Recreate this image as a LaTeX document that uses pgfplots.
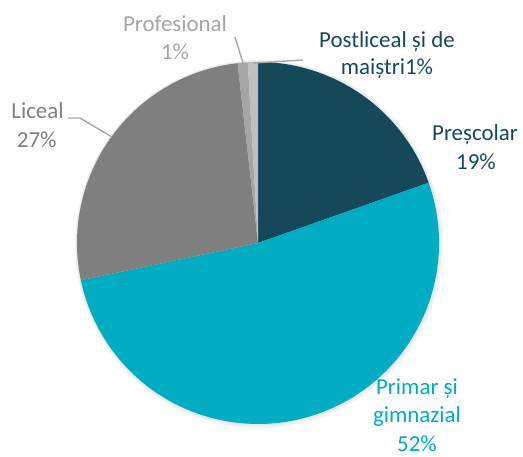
\documentclass[border=0pt]{standalone}
\usepackage{pgfplots}
\usepackage{pgfplotstable}
\pgfplotsset{compat=1.18}
\usepackage{fontspec}
\setmainfont{Carlito}
\definecolor{cPre}{HTML}{15495A}
\definecolor{cPri}{HTML}{00ACC1}
\definecolor{cLic}{HTML}{7F7F7F}
\definecolor{cPro}{HTML}{A5A5A5}
\definecolor{cPost}{HTML}{BFBFBF}
\definecolor{cLead}{HTML}{A6A6A6}

% share of each category (percent), clockwise from 12 o'clock
\pgfplotstableread{
pct   color
19.6  cPre
52.1  cPri
26.5  cLic
0.9   cPro
0.9   cPost
}\piedata

\begin{document}
\begin{tikzpicture}
\begin{axis}[
  scale only axis, width=523bp, height=457bp,
  xmin=0, xmax=523, ymin=0, ymax=457,
  hide axis, clip=false,
]
% soft shadow
\fill[black!5] (axis cs:259,213) circle[radius=184bp];
\fill[black!9] (axis cs:258.5,213.5) circle[radius=182.3bp];
% slices
\def\angA{90}
\pgfplotstablegetrowsof{\piedata}
\pgfmathtruncatemacro\nrows{\pgfplotsretval-1}
\pgfplotsforeachungrouped \i in {0,...,\nrows}{%
  \pgfplotstablegetelem{\i}{pct}\of\piedata \let\slicepct\pgfplotsretval
  \pgfplotstablegetelem{\i}{color}\of\piedata \let\slicecol\pgfplotsretval
  \pgfmathsetmacro\angB{\angA-3.6*\slicepct}%
  \edef\temp{\noexpand\fill[\slicecol] (axis cs:258,214) -- ++(\angA:181bp) arc[start angle=\angA, end angle=\angB, radius=181bp] -- cycle;}%
  \temp
  \global\let\angA\angB
}
% leader lines
\draw[cLead, line width=1.4bp] (axis cs:68,339) -- (axis cs:80,339) -- (axis cs:112,320);
\draw[cLead, line width=1.4bp] (axis cs:235,420) -- (axis cs:243,394);
\draw[cLead, line width=1.4bp] (axis cs:253,394) -- (axis cs:303,397);
% labels
\tikzset{lab/.style={inner sep=0pt, anchor=base, font=\fontsize{23}{28}\selectfont}}
\node[lab, text=cPre] at (axis cs:475,316) {Preșcolar};
\node[lab, text=cPre] at (axis cs:476,287) {19\%};
\node[lab, text=cPri] at (axis cs:417,62) {Primar și};
\node[lab, text=cPri] at (axis cs:417,34) {gimnazial};
\node[lab, text=cPri] at (axis cs:417,6) {52\%};
\node[lab, text=cLic] at (axis cs:37.5,338) {Liceal};
\node[lab, text=cLic] at (axis cs:36.7,309) {27\%};
\node[lab, text=cPro] at (axis cs:175,425) {Profesional};
\node[lab, text=cPro] at (axis cs:175,397) {1\%};
\node[lab, text=cPre] at (axis cs:387,409) {Postliceal și de};
\node[lab, text=cPre] at (axis cs:387,382) {maiștri1\%};
\end{axis}
\pgfresetboundingbox
\path (current axis.south west) rectangle (current axis.north east);
\end{tikzpicture}
\end{document}
